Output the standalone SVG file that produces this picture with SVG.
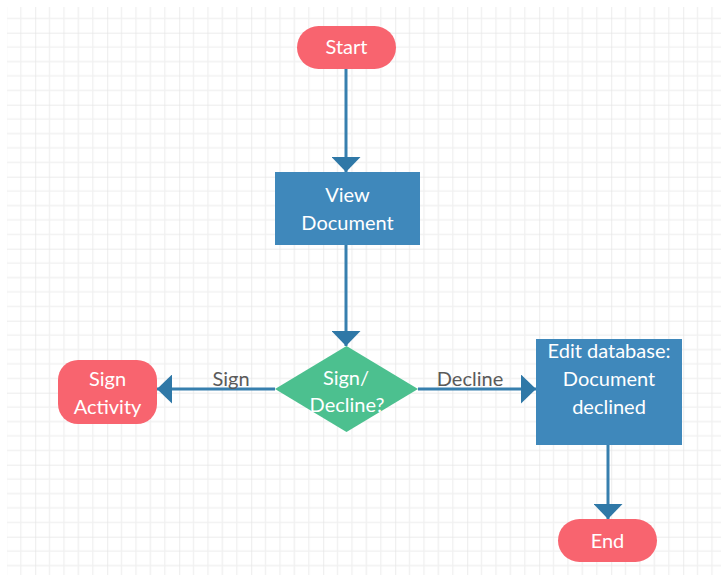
<svg xmlns="http://www.w3.org/2000/svg" width="721" height="582" viewBox="0 0 721 582">
  <style>
    .lbl { font-family: Lato, "Open Sans", "Liberation Sans", sans-serif; font-size: 20px; text-anchor: middle; }
    .node-text { fill: #ffffff; }
    .edge-text { fill: #5a5a5a; }
    .terminal { fill: #f8646f; }
    .process { fill: #3f88bb; }
    .decision { fill: #4cc08f; }
    .edge { fill: none; stroke: #377fae; stroke-width: 3; }
  </style>
  <defs>
    <pattern id="grid" x="-36.8" y="-39.3" width="72" height="72" patternUnits="userSpaceOnUse">
      <path d="M14.4 0V72M28.8 0V72M43.2 0V72M57.6 0V72M0 14.4H72M0 28.8H72M0 43.2H72M0 57.6H72" stroke="#f0f0f0" stroke-width="1.3" fill="none"/>
      <path d="M0 0V72M0 0H72" stroke="#e6e6e6" stroke-width="1.5" fill="none"/>
    </pattern>
    <marker id="arrow" viewBox="0 0 15 29" refX="15" refY="14.5" markerWidth="15" markerHeight="29" markerUnits="userSpaceOnUse" orient="auto">
      <path d="M0 0L15 14.5L0 29Z" fill="#2f78a7"/>
    </marker>
  </defs>

  <!-- canvas background with grid -->
  <rect width="721" height="582" fill="#ffffff"/>
  <rect x="7" y="7" width="714" height="568" fill="url(#grid)"/>

  <!-- connectors -->
  <g id="connectors">
    <path class="edge" d="M346 69V172" marker-end="url(#arrow)"/>
    <path class="edge" d="M346 245V346" marker-end="url(#arrow)"/>
    <path class="edge" d="M275 389H157" marker-end="url(#arrow)"/>
    <path class="edge" d="M418 389H536" marker-end="url(#arrow)"/>
    <path class="edge" d="M608 445V519" marker-end="url(#arrow)"/>
    <text class="lbl edge-text" x="231" y="386">Sign</text>
    <text class="lbl edge-text" x="470" y="386">Decline</text>
  </g>

  <!-- nodes -->
  <g id="start">
    <rect class="terminal" x="297" y="26" width="99" height="43" rx="21.5"/>
    <text class="lbl node-text" x="346.5" y="54">Start</text>
  </g>

  <g id="view-document">
    <rect class="process" x="275" y="172" width="145" height="73"/>
    <text class="lbl node-text" x="347.5" y="202">View</text>
    <text class="lbl node-text" x="347.5" y="230">Document</text>
  </g>

  <g id="sign-decline">
    <polygon class="decision" points="346.5,346 418,389 346.5,432 275,389"/>
    <text class="lbl node-text" x="346" y="385">Sign/</text>
    <text class="lbl node-text" x="347" y="412">Decline?</text>
  </g>

  <g id="sign-activity">
    <rect class="terminal" x="58" y="360" width="99" height="64" rx="20"/>
    <text class="lbl node-text" x="107.5" y="386">Sign</text>
    <text class="lbl node-text" x="107.5" y="414">Activity</text>
  </g>

  <g id="edit-database">
    <rect class="process" x="536" y="339" width="146" height="106"/>
    <text class="lbl node-text" x="609" y="358">Edit database:</text>
    <text class="lbl node-text" x="609" y="386">Document</text>
    <text class="lbl node-text" x="609" y="414">declined</text>
  </g>

  <g id="end">
    <rect class="terminal" x="558" y="519" width="99" height="43" rx="21.5"/>
    <text class="lbl node-text" x="607.5" y="548">End</text>
  </g>
</svg>
